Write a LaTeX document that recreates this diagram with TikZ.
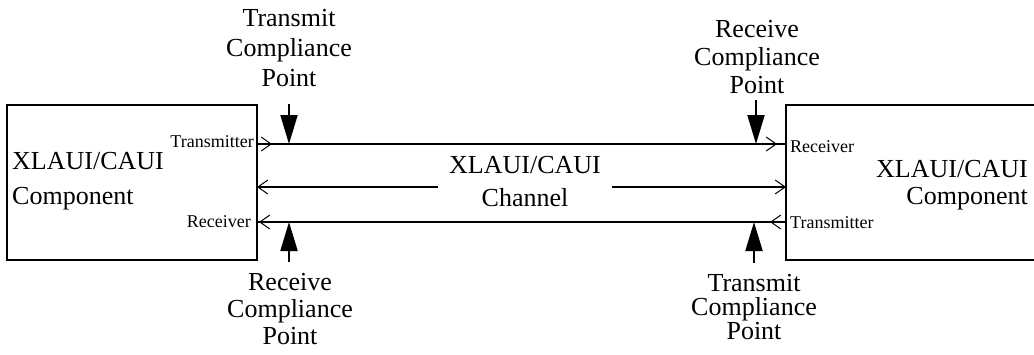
\documentclass[tikz,border=0pt]{standalone}
\usepackage{fontspec}
\setmainfont{Liberation Serif}
\usetikzlibrary{arrows.meta,decorations.markings}
\tikzset{
  compbox/.style={draw, line width=2pt, inner sep=0pt, outer sep=0pt, anchor=north west},
  barb/.tip={Straight Barb[length=10pt,width=14pt,line width=1pt]},
  sig/.style={line width=2pt},
  cp/.style={line width=2pt, -{Triangle[length=29pt,width=17pt]}},
  big/.style={inner sep=0pt, font=\fontsize{26}{#1}\selectfont},
  small/.style={inner sep=0pt, font=\fontsize{18}{20}\selectfont},
  lbl/.style={big=#1, align=center, anchor=north},
}
\begin{document}
\begin{tikzpicture}[x=1pt,y=-1pt]
\useasboundingbox (0,0) rectangle (1034,354);
% boxes
\node[compbox, minimum width=250pt, minimum height=155pt] (L) at (7,105) {};
\node[compbox, minimum width=254pt, minimum height=155pt] (R) at (786,105) {};
% box texts
\node[big=35, align=left, anchor=north west] (Ltxt) at (12,152.5) {XLAUI/CAUI\\Component};
\node[big=27, align=right, anchor=north east] (Rtxt) at (1028,160.5) {XLAUI/CAUI\\Component};
% ports
\coordinate (lt) at (257,144);
\coordinate (lm) at (257,187);
\coordinate (lb) at (257,222);
\coordinate (rt) at (786,144);
\coordinate (rm) at (786,187);
\coordinate (rb) at (786,222);
% port labels
\node[small, anchor=base east] (ltx) at (254,147) {Transmitter};
\node[small, anchor=base east] (lrx) at (251,227) {Receiver};
\node[small, anchor=base west] (rrx) at (790,152) {Receiver};
\node[small, anchor=base west] (rtx) at (790,228) {Transmitter};
% top signal line
\draw[sig, postaction={decorate}, decoration={markings,
   mark=at position 15pt with {\arrow{barb}},
   mark=at position -9pt with {\arrow{barb}}}] (lt) -- (rt);
% bottom signal line
\draw[sig, postaction={decorate}, decoration={markings,
   mark=at position 16pt with {\arrow{barb}},
   mark=at position -2pt with {\arrow{barb}}}] (rb) -- (lb);
% channel
\node[big=33, align=center, anchor=north, inner xsep=11pt] (C) at (525,156.5) {XLAUI/CAUI\\Channel};
\draw[sig, {barb}-] (lm) -- (C.west |- lm);
\draw[sig, -{barb}] (C.east |- rm) -- (rm);
% compliance points
\node[lbl=30] (tcl) at (289,9.5) {Transmit\\Compliance\\Point};
\node[lbl=28] (rcr) at (757,20.5) {Receive\\Compliance\\Point};
\node[lbl=27] (rcl) at (290,273.5) {Receive\\Compliance\\Point};
\node[lbl=24] (tcr) at (754,274.5) {Transmit\\Compliance\\Point};
\coordinate (a1s) at (289,104);
\coordinate (a1e) at (289,144);
\coordinate (a2s) at (756,100);
\coordinate (a2e) at (756,144);
\coordinate (a3s) at (289,262);
\coordinate (a3e) at (289,222);
\coordinate (a4s) at (754,263);
\coordinate (a4e) at (754,222);
\draw[cp] (a1s) -- (a1e);
\draw[cp] (a2s) -- (a2e);
\draw[cp] (a3s) -- (a3e);
\draw[cp] (a4s) -- (a4e);
\end{tikzpicture}
\end{document}
